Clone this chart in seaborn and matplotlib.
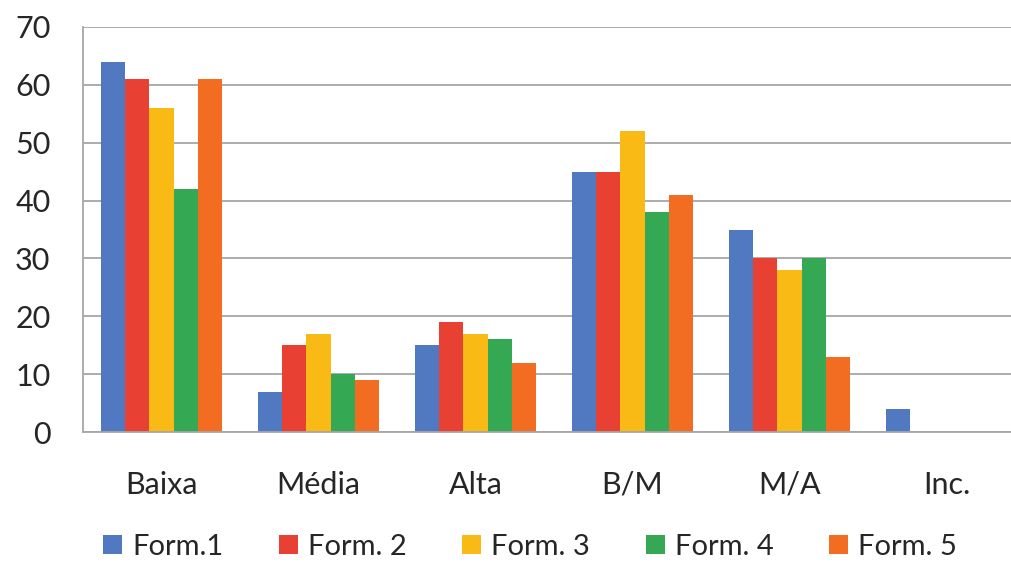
import pandas as pd
import matplotlib.pyplot as plt
import seaborn as sns

categorias = ['Baixa', 'Média', 'Alta', 'B/M', 'M/A', 'Inc.']
series = ['Form.1', 'Form. 2', 'Form. 3', 'Form. 4', 'Form. 5']
form1 = [64, 7, 15, 45, 35, 4]
form2 = [61, 15, 19, 45, 30, 0]
form3 = [56, 17, 17, 52, 28, 0]
form4 = [42, 10, 16, 38, 30, 0]
form5 = [61, 9, 12, 41, 13, 0]
cores = ['#5079C1', '#E84133', '#F9BA16', '#34A853', '#F26C22']

valores = [form1, form2, form3, form4, form5]
rows = []
for nome, vals in zip(series, valores):
    for cat, v in zip(categorias, vals):
        rows.append({'categoria': cat, 'serie': nome, 'valor': v})
df = pd.DataFrame(rows)

sns.set_style('white')
plt.rcParams['font.family'] = ['Lato', 'DejaVu Sans']

fig = plt.figure(figsize=(10.12, 5.63), dpi=100)
ax = fig.add_axes([83 / 1012, 1 - 432 / 563, 942 / 1012, 405 / 563])

sns.barplot(data=df, x='categoria', y='valor', hue='serie', order=categorias,
            hue_order=series, palette=cores, width=0.77, saturation=1,
            linewidth=0, ax=ax)

ax.set_ylim(0, 70)
ax.set_xlim(-0.5, len(categorias) - 0.5)
ax.set_yticks(range(0, 71, 10))
ax.yaxis.grid(True, color='#A6A6A6', linewidth=1.3)
ax.set_axisbelow(True)
ax.set_xlabel('')
ax.set_ylabel('')
for s in ['top', 'right']:
    ax.spines[s].set_visible(False)
for s in ['left', 'bottom']:
    ax.spines[s].set_color('#A6A6A6')
    ax.spines[s].set_linewidth(1.3)
ax.tick_params(axis='y', length=9.4, color='#A6A6A6', width=1.3, labelsize=22, pad=14)
ax.tick_params(axis='x', length=0, labelsize=22, pad=28)

leg = ax.legend(loc='upper center', bbox_to_anchor=(447 / 942, -0.205), ncol=5,
                frameon=False, fontsize=21, handlelength=0.65, handleheight=0.65,
                handletextpad=0.35, columnspacing=1.9, borderpad=0.15)

fig.savefig('out.png', dpi=100)
